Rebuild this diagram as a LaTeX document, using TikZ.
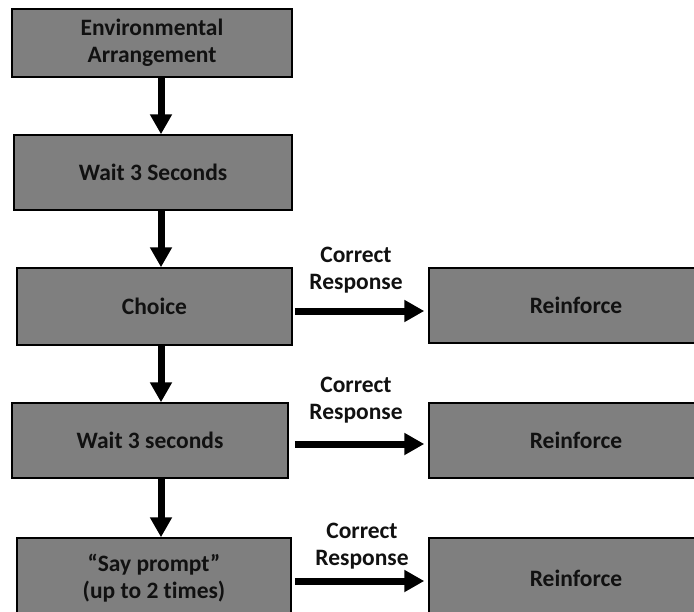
\documentclass[tikz,border=0pt]{standalone}
\usepackage{fontspec}
\setmainfont[Ligatures={NoCommon}]{Carlito}
\usetikzlibrary{arrows.meta}
\definecolor{boxgray}{RGB}{127,127,127}
\definecolor{ink}{RGB}{17,17,17}
\begin{document}
\begin{tikzpicture}[x=1pt,y=-1pt,
  box/.style={draw=black,line width=1.5pt,fill=boxgray,inner sep=0pt,align=center,text=ink,
              font=\bfseries\fontsize{23.5}{27}\selectfont},
  lbl/.style={align=center,inner sep=0pt,text=ink,font=\bfseries\fontsize{23.5}{27}\selectfont},
  flow/.style={line width=7pt,-{Triangle[length=20pt,width=21pt]}}]
\useasboundingbox (0,0) rectangle (694,611);
% left column
\node[box,minimum width=280pt,minimum height=68pt] (env) at (152,43) {Environmental\\Arrangement};
\node[box,minimum width=278pt,minimum height=75pt] (wait1) at (153,172.5) {Wait 3 Seconds};
\node[box,minimum width=275pt,minimum height=77pt] (choice) at (154.5,306.5) {Choice};
\node[box,minimum width=276pt,minimum height=75pt] (wait2) at (150,440.5) {Wait 3 seconds};
\node[box,minimum width=274pt,minimum height=80pt] (say) at (154,578) {“Say prompt”\\(up to 2 times)};
% right column
\node[box,minimum width=294pt,minimum height=75pt] (r1) at (576,305.5) {Reinforce};
\node[box,minimum width=294pt,minimum height=75pt] (r2) at (576,440.5) {Reinforce};
\node[box,minimum width=294pt,minimum height=80pt] (r3) at (576,578) {Reinforce};
% labels
\node[lbl] (l1) at (356,270) {Correct\\Response};
\node[lbl] (l2) at (356,400) {Correct\\Response};
\node[lbl] (l3) at (362,546) {Correct\\Response};
% vertical arrows
\coordinate (ax) at (161,0);
\draw[flow] (env.south -| ax) -- (wait1.north -| ax);
\draw[flow] (wait1.south -| ax) -- (choice.north -| ax);
\draw[flow] (choice.south -| ax) -- (wait2.north -| ax);
\draw[flow] (wait2.south -| ax) -- (say.north -| ax);
% horizontal arrows
\coordinate (ay1) at (0,311);
\coordinate (ay2) at (0,444);
\coordinate (ay3) at (0,581);
\draw[flow,shorten <=2pt,shorten >=4pt] (choice.east |- ay1) -- (r1.west |- ay1);
\draw[flow,shorten <=6pt,shorten >=4pt] (wait2.east |- ay2) -- (r2.west |- ay2);
\draw[flow,shorten <=3pt,shorten >=4pt] (say.east |- ay3) -- (r3.west |- ay3);
\end{tikzpicture}
\end{document}
